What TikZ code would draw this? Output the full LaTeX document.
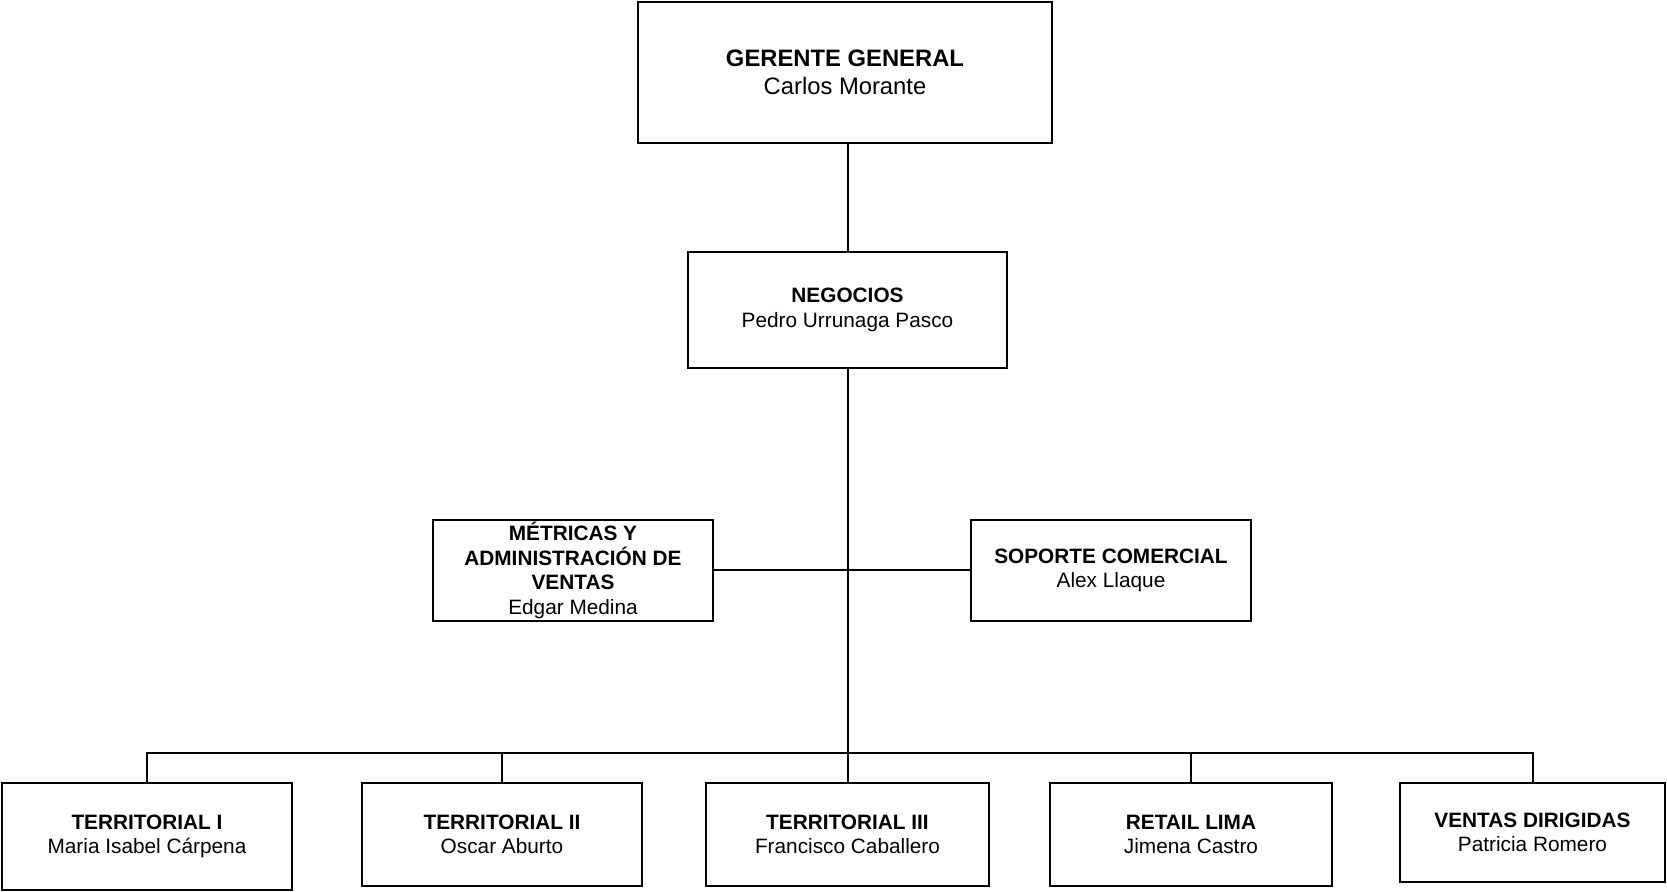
\documentclass[tikz,border=0pt]{standalone}
\usepackage{fontspec}
\setmainfont{Liberation Sans}
\begin{document}
\begin{tikzpicture}[x=0.5pt,y=-0.5pt,
  unit/.style={draw=black, line width=1pt, rectangle, align=center,
    inner sep=0pt, outer sep=0pt, font=\fontsize{10.4pt}{12.3pt}\selectfont},
  topunit/.style={unit, font=\fontsize{11.9pt}{14pt}\selectfont},
  size/.style 2 args={minimum width={#1*0.5pt}, minimum height={#2*0.5pt}},
  link/.style={draw=black, line width=1pt}]
\useasboundingbox (0,0) rectangle (1667,892);

% top management
\node[topunit, size={414}{141}] (ger) at (845,72.5)
  {\textbf{GERENTE GENERAL}\\Carlos Morante};
\node[unit, size={319}{116}] (neg) at (847.5,310)
  {\textbf{NEGOCIOS}\\Pedro Urrunaga Pasco};

% staff units
\node[unit, size={280}{101}] (met) at (573,570.5)
  {\textbf{MÉTRICAS Y}\\\textbf{ADMINISTRACIÓN DE}\\\textbf{VENTAS}\\Edgar Medina};
\node[unit, size={280}{101}] (sop) at (1111,570.5)
  {\textbf{SOPORTE COMERCIAL}\\Alex Llaque};

% sales units
\node[unit, size={290}{107}] (t1) at (147,836.5)
  {\textbf{TERRITORIAL I}\\Maria Isabel Cárpena};
\node[unit, size={280}{103}] (t2) at (502,834.5)
  {\textbf{TERRITORIAL II}\\Oscar Aburto};
\node[unit, size={283}{103}] (t3) at (847.5,834.5)
  {\textbf{TERRITORIAL III}\\Francisco Caballero};
\node[unit, size={282}{103}] (ret) at (1191,834.5)
  {\textbf{RETAIL LIMA}\\Jimena Castro};
\node[unit, size={265}{99}] (ven) at (1532.5,832.5)
  {\textbf{VENTAS DIRIGIDAS}\\Patricia Romero};

\coordinate (bus) at (847,753);

% connectors
\draw[link] (neg.north |- ger.south) -- (neg.north);
\draw[link] (neg.south) -- (neg.south |- bus);
\draw[link] (met.east) -- (sop.west);
\draw[link] (t1.north) -- (t1.north |- bus) -- (ven.north |- bus) -- (ven.north);
\foreach \n in {t2,t3,ret}
  \draw[link] (\n.north) -- (\n.north |- bus);
\end{tikzpicture}
\end{document}
